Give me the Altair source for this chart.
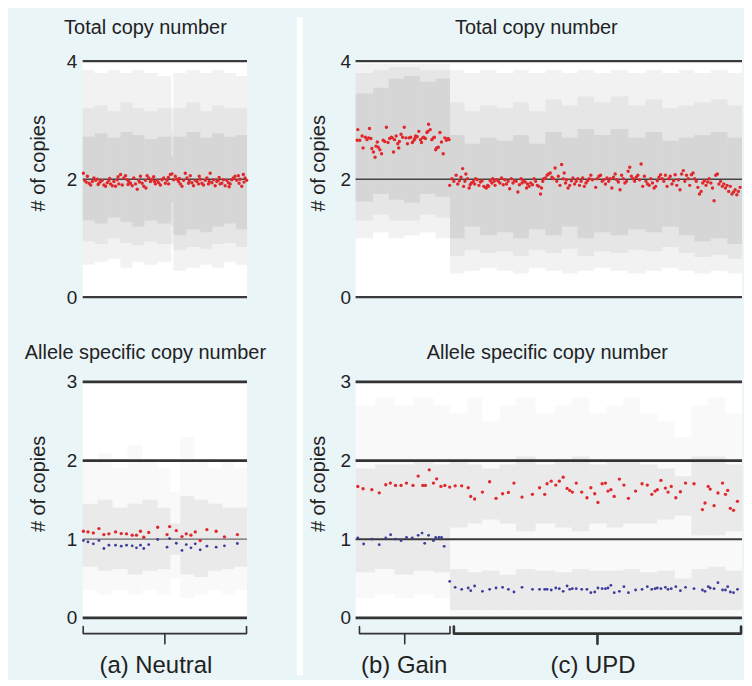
import altair as alt
import pandas as pd

FONT = "Liberation Sans"
PANEL_BG = "#eaf5f8"
TEXT = "#222222"
RED = "#e0282c"
BLUE = "#3c3c9c"

# ---------------- (a) Neutral : total copy number (smoothed, red) ----------------
A_TOT_X = [0.7, 2.0, 3.5, 4.7, 6.3, 8.0, 9.7, 11.3, 13.0, 14.7, 15.5, 16.3, 18.0, 19.7, 21.3, 23.0,
           24.7, 26.3, 27.0, 28.0, 29.7, 31.3, 33.0, 34.7, 35.5, 36.3, 38.0, 39.7, 41.3, 43.0, 44.7,
           45.5, 46.3, 48.0, 49.7, 51.3, 53.0, 54.7, 56.3, 57.0, 58.0, 59.7, 61.3, 63.0, 63.5, 64.7,
           66.3, 68.0, 69.7, 71.3, 72.0, 73.0, 74.7, 76.3, 78.0, 79.7, 81.3, 83.0, 84.7, 86.0, 86.3,
           88.0, 89.7, 91.3, 93.0, 94.7, 96.3, 97.0, 98.0, 99.7, 101.3, 103.0, 104.7, 106.3, 107.0,
           108.0, 109.7, 111.3, 113.0, 114.7, 116.3, 117.0, 118.0, 119.7, 121.3, 123.0, 124.7, 126.3,
           127.0, 128.0, 129.7, 131.3, 133.0, 134.7, 136.3, 137.0, 138.0, 139.7, 141.3, 143.0, 144.7,
           146.3, 147.0, 148.0, 149.7, 151.3, 153.0, 154.7, 156.3, 157.0, 158.0, 159.7, 161.3, 162.0,
           163.0, 164.7]
A_TOT_Y = [2.10, 1.98, 1.95, 2.05, 1.93, 1.90, 1.96, 2.02, 1.98, 2.00, 1.91, 1.93, 1.96, 1.98, 1.90, 1.88,
           1.94, 1.98, 2.01, 1.92, 1.89, 1.96, 1.88, 1.99, 2.04, 1.92, 2.08, 1.90, 2.02, 2.06, 1.99,
           1.91, 1.96, 1.93, 1.89, 2.02, 1.92, 1.83, 1.98, 1.95, 2.05, 1.93, 1.88, 1.98, 1.85, 2.06,
           2.02, 1.96, 2.00, 2.04, 1.96, 1.92, 1.98, 1.94, 1.90, 1.99, 2.02, 1.93, 1.98, 2.03, 1.92,
           2.08, 2.09, 1.99, 2.05, 2.00, 1.96, 2.01, 1.92, 1.88, 1.98, 2.10, 2.02, 1.93, 1.97,
           2.06, 1.94, 1.89, 1.98, 1.96, 1.92, 2.05, 2.00, 1.93, 1.90, 1.98, 2.02, 1.92,
           1.96, 2.10, 1.94, 1.99, 1.89, 1.96, 1.98, 2.03, 1.92, 1.93, 1.99, 1.89, 1.98,
           1.94, 1.87, 1.92, 1.99, 2.02, 2.05, 1.98, 2.06, 1.93, 2.00, 1.88, 2.08, 1.95,
           2.02, 1.98]

# ---------------- (a) Neutral : allele specific copy number ----------------
A_ASC_X = [0.7, 5.3, 10.7, 16.3, 21.3, 26.3, 33.0, 38.7, 44.0, 49.7, 54.0, 58.0, 61.3, 66.3,
           75.3, 84.7, 87.3, 94.0, 99.7, 104.0, 108.7, 113.0, 118.0, 124.7, 134.0, 142.3, 155.3]
A_ASC_MAJOR = [1.101, 1.093, 1.080, 1.135, 1.059, 1.068, 1.093, 1.072, 1.068, 1.051, 1.051, 1.101,
               1.025, 1.085, 1.152, 1.059, 1.160, 1.110, 1.034, 1.068, 1.051, 1.093, 0.983, 1.122,
               1.101, 1.030, 1.059]
A_ASC_MINOR = [0.983, 0.966, 0.941, 0.983, 0.882, 0.924, 0.924, 0.911, 0.924, 0.916, 0.890, 0.924,
               0.882, 0.932, 0.996, 0.899, 1.008, 0.949, 0.857, 0.932, 0.890, 0.941, 0.865, 0.911,
               0.899, 0.916, 0.945]

# ---------------- (b) Gain + (c) UPD : total copy number ----------------
B_TOT_X = [1.7, 2.3, 4.3, 6.7, 7.7, 10.0, 11.7, 13.3, 14.3, 15.7, 16.7, 18.3, 20.0, 21.0, 22.3, 23.3,
           25.0, 26.7, 28.3, 30.0, 31.7, 33.3, 35.0, 36.7, 37.7, 39.0, 40.0, 41.7, 43.3, 44.3, 45.0,
           46.7, 48.3, 50.0, 51.7, 53.3, 55.0, 56.7, 58.3, 60.0, 61.0, 61.7, 63.3, 65.0, 66.7, 67.7,
           69.0, 70.0, 71.7, 73.3, 74.3, 75.0, 76.7, 78.3, 80.0, 81.0, 82.3, 83.3, 85.0, 86.7, 88.3,
           90.0, 91.7, 93.3, 95.0, 96.0]
B_TOT_Y = [2.66, 2.84, 2.66, 2.73, 2.53, 2.71, 2.67, 2.70, 2.86, 2.69, 2.52, 2.46, 2.37, 2.56, 2.63, 2.54,
           2.50, 2.43, 2.66, 2.64, 2.88, 2.62, 2.69, 2.71, 2.70, 2.46, 2.67, 2.73, 2.60, 2.53, 2.64,
           2.76, 2.71, 2.88, 2.70, 2.60, 2.70, 2.71, 2.62, 2.66, 2.69, 2.73, 2.72, 2.81, 2.67, 2.62,
           2.70, 2.71, 2.69, 2.79, 2.81, 2.93, 2.84, 2.67, 2.70, 2.71, 2.50, 2.53, 2.54, 2.79, 2.63,
           2.43, 2.70, 2.66, 2.69, 2.67]
C_TOT_X = [96.7, 99.0, 101.0, 103.3, 105.0, 106.7, 108.3, 110.0, 111.0, 112.3, 113.3, 115.0, 116.7,
           117.7, 119.0, 121.0, 122.3, 123.3, 125.0, 126.7, 128.3, 130.0, 131.7, 133.3, 134.3, 135.7,
           136.7, 138.3, 140.0, 141.0, 142.3, 143.3, 145.0, 146.7, 148.3, 150.0, 151.7, 153.3, 155.0,
           156.7, 158.3, 160.0, 161.7, 163.3, 165.0, 166.7, 168.3, 170.0, 171.0, 172.3, 174.3, 175.7,
           176.7, 178.3, 180.0, 181.7, 183.3, 185.0, 186.7, 188.3, 190.0, 191.0, 192.3, 193.3, 195.0,
           196.7, 198.3, 200.0, 201.7, 203.3, 205.0, 206.7, 208.3, 210.0, 211.7, 213.3, 214.3, 215.7,
           216.7, 218.3, 220.0, 221.7, 223.3, 225.0, 226.7, 228.3, 230.0, 231.7, 233.3, 235.0, 236.7,
           238.3, 240.0, 241.7, 243.3,
           246.7, 248.3, 250.0, 251.7, 253.3, 255.0, 256.7, 258.3, 260.0, 261.7, 263.3, 265.0, 266.7,
           268.3, 270.0, 271.7, 273.3, 275.0, 276.7, 278.3, 280.0, 281.7, 283.3, 285.0, 286.7, 288.3,
           290.0, 291.7, 293.3, 295.0, 296.7, 298.3, 300.0, 301.7, 303.3, 305.0, 306.7, 308.3, 310.0,
           311.7, 313.3, 315.0, 316.7, 318.3, 320.0, 321.7, 323.3, 325.0, 326.7, 328.3, 330.0, 331.7,
           333.3, 335.0, 336.7, 338.3, 340.0, 341.7, 343.3, 345.0, 346.7, 348.3, 350.0, 351.7, 353.3,
           355.0, 356.7, 358.3, 360.0, 361.7, 363.3, 365.0, 366.7, 368.3, 370.0, 371.7, 373.3, 375.0,
           376.7, 378.3, 380.0, 381.7, 383.3, 385.0, 386.7, 388.3, 390.0, 391.7, 393.3, 395.0]
C_TOT_Y = [1.895, 2.008, 1.963, 2.065, 1.918, 1.974, 2.031, 2.179, 1.878, 1.963, 2.088, 2.008, 1.850,
           1.906, 1.935, 1.963, 1.918, 2.008, 1.991, 1.895, 1.952, 1.974, 1.878, 1.861, 1.850, 1.895,
           1.878, 1.974, 1.935, 2.008, 1.963, 1.895, 1.991, 1.963, 1.935, 2.020, 1.906, 1.991, 1.918,
           1.963, 1.838, 2.008, 1.935, 1.974, 1.963, 1.782, 1.906, 2.008, 1.935, 1.974, 1.952, 1.850,
           1.918, 1.878, 1.935, 1.906, 2.008, 1.963, 1.895, 1.878, 1.748, 1.850, 1.963, 2.008, 2.020,
           2.065, 2.088, 2.105, 2.031, 2.008, 2.190, 1.963, 2.048, 1.895, 2.247, 2.008, 2.105, 1.935,
           1.991, 1.850, 1.895, 1.974, 2.020, 1.918, 1.963, 2.008, 1.895, 1.963, 2.020, 1.878, 1.935,
           1.974, 2.008, 2.065, 1.991,
           1.861, 2.008, 2.048, 2.065, 1.963, 1.991, 1.918, 2.020, 1.963, 2.008, 1.850, 2.031, 2.088,
           1.991, 1.952, 1.821, 2.065, 2.008, 1.935, 1.963, 2.133, 2.201, 2.048, 2.008, 1.963, 2.031,
           2.065, 1.991, 2.258, 1.878, 2.048, 1.963, 1.918, 1.895, 2.008, 1.935, 1.850, 1.878, 1.974,
           2.031, 2.076, 2.008, 1.963, 2.065, 1.878, 2.008, 2.048, 1.918, 1.974, 2.076, 1.895, 1.991,
           1.821, 2.088, 2.145, 1.963, 2.065, 2.008, 1.895, 2.076, 2.105, 2.008, 1.963, 1.861, 1.748,
           1.793, 1.935, 1.974, 1.895, 1.952, 2.008, 1.935, 1.850, 1.634, 2.065, 2.088, 1.918, 1.963,
           1.878, 1.918, 1.850, 1.895, 1.793, 1.878, 1.748, 1.782, 1.821, 1.736, 1.793, 1.861]

# ---------------- (b) Gain : allele specific ----------------
B_MAJOR_X = [2.3, 7.7, 16.7, 24.3, 31.0, 35.7, 41.0, 46.7, 52.3, 59.0, 64.3, 69.0, 71.7, 75.7,
             80.0, 83.3, 87.7, 91.7]
B_MAJOR = [1.671, 1.641, 1.629, 1.590, 1.692, 1.713, 1.684, 1.684, 1.713, 1.684, 1.802, 1.684,
           1.684, 1.882, 1.713, 1.768, 1.671, 1.684]
B_MINOR_X = [2.3, 8.3, 16.7, 24.3, 31.0, 36.0, 41.0, 46.7, 52.3, 58.3, 64.3, 68.3, 71.0, 75.0,
             80.0, 82.3, 85.7, 88.3, 91.0]
B_MINOR = [1.015, 0.939, 1.002, 0.930, 1.015, 1.057, 1.002, 0.981, 1.023, 1.015, 1.049, 1.078,
           0.947, 1.049, 0.981, 1.023, 1.023, 1.023, 0.909]

# ---------------- (c) UPD : allele specific ----------------
C_ASC_X = [96.7, 102.3, 109.0, 115.7, 118.3, 122.3, 130.3, 137.7, 144.3, 151.0, 157.0, 162.7, 171.0,
           181.7, 189.0, 194.3, 196.7, 201.0, 205.7, 209.3, 213.3, 217.3, 220.0, 222.7, 226.7, 232.3,
           237.7, 241.7, 245.7, 249.0, 253.3, 256.7, 259.3, 262.3, 265.7, 271.0, 275.7, 280.3, 287.7,
           294.3, 299.7, 304.3, 307.7, 310.0, 313.7, 318.3, 321.0, 324.3, 329.0, 333.7, 339.0, 347.7,
           356.3, 359.0, 362.3, 364.3, 368.3, 372.3, 377.0, 380.0, 382.3, 385.0, 388.3, 392.3]
C_MAJOR = [1.662, 1.679, 1.679, 1.654, 1.544, 1.511, 1.599, 1.730, 1.519, 1.578, 1.595, 1.713, 1.536,
           1.570, 1.654, 1.570, 1.705, 1.738, 1.688, 1.738, 1.789, 1.646, 1.620, 1.599, 1.713, 1.599,
           1.527, 1.654, 1.578, 1.468, 1.705, 1.713, 1.612, 1.629, 1.544, 1.764, 1.688, 1.519, 1.612,
           1.705, 1.688, 1.570, 1.612, 1.629, 1.747, 1.650, 1.599, 1.671, 1.527, 1.603, 1.713, 1.705,
           1.376, 1.460, 1.671, 1.637, 1.426, 1.587, 1.713, 1.570, 1.620, 1.393, 1.367, 1.481]
C_MINOR = [0.464, 0.388, 0.363, 0.380, 0.346, 0.405, 0.338, 0.363, 0.380, 0.388, 0.363, 0.329, 0.388,
           0.363, 0.363, 0.363, 0.363, 0.354, 0.380, 0.371, 0.338, 0.405, 0.363, 0.371, 0.371, 0.363,
           0.363, 0.321, 0.329, 0.380, 0.371, 0.371, 0.380, 0.414, 0.321, 0.338, 0.397, 0.321, 0.354,
           0.363, 0.397, 0.363, 0.371, 0.380, 0.371, 0.388, 0.363, 0.371, 0.397, 0.346, 0.388, 0.371,
           0.354, 0.338, 0.397, 0.380, 0.371, 0.447, 0.354, 0.354, 0.397, 0.329, 0.321, 0.363]

# ---------------- raw probe clouds (spread read per stretch) ----------------
A_TOT_EDGES = [0, 12, 25, 38, 50, 62, 75, 89, 91, 104, 118, 130, 142, 154, 165]
A_TOT_OUT_LO = [0.55, 0.60, 0.65, 0.50, 0.60, 0.55, 0.60, 0.90, 0.45, 0.50, 0.55, 0.50, 0.60, 0.55]
A_TOT_OUT_HI = [3.85, 3.80, 3.85, 3.80, 3.85, 3.80, 3.75, 3.20, 3.80, 3.85, 3.80, 3.85, 3.80, 3.75]
A_TOT_MID_LO = [0.95, 0.90, 1.00, 0.92, 0.88, 0.95, 0.90, 1.20, 0.80, 0.85, 0.82, 0.90, 0.92, 0.85]
A_TOT_MID_HI = [3.20, 3.25, 3.15, 3.30, 3.20, 3.15, 3.20, 2.80, 3.20, 3.30, 3.15, 3.25, 3.20, 3.20]
A_TOT_IN_LO = [1.30, 1.25, 1.35, 1.28, 1.20, 1.30, 1.25, 1.60, 1.05, 1.15, 1.10, 1.20, 1.25, 1.15]
A_TOT_IN_HI = [2.72, 2.78, 2.70, 2.80, 2.75, 2.68, 2.72, 2.40, 2.72, 2.80, 2.70, 2.78, 2.72, 2.75]

BC_TOT_EDGES = [0, 18, 34, 50, 66, 82, 97, 112, 128, 145, 162, 178, 195, 212, 228, 245, 262, 280,
                298, 315, 332, 348, 365, 382, 397]
BC_TOT_OUT_LO = [1.00, 1.10, 1.00, 1.05, 1.10, 1.00, 0.40, 0.45, 0.50, 0.45, 0.40, 0.50, 0.45, 0.40,
                 0.45, 0.50, 0.45, 0.40, 0.45, 0.50, 0.45, 0.40, 0.45, 0.40]
BC_TOT_OUT_HI = [3.95, 3.95, 3.95, 3.95, 3.95, 3.95, 3.85, 3.80, 3.85, 3.80, 3.85, 3.80, 3.85, 3.80,
                 3.85, 3.80, 3.85, 3.80, 3.85, 3.80, 3.85, 3.80, 3.85, 3.80]
BC_TOT_MID_LO = [1.30, 1.40, 1.30, 1.30, 1.40, 1.35, 0.70, 0.80, 0.75, 0.78, 0.70, 0.80, 0.75, 0.82,
                 0.70, 0.78, 0.75, 0.80, 0.78, 0.85, 0.75, 0.68, 0.72, 0.65]
BC_TOT_MID_HI = [3.80, 3.85, 3.90, 3.90, 3.85, 3.85, 3.30, 3.15, 3.25, 3.20, 3.30, 3.15, 3.35, 3.25,
                 3.40, 3.30, 3.40, 3.25, 3.35, 3.20, 3.25, 3.30, 3.35, 3.25]
BC_TOT_IN_LO = [1.62, 1.75, 1.65, 1.60, 1.75, 1.70, 1.00, 1.20, 1.05, 1.10, 1.00, 1.15, 1.05, 1.20,
                1.00, 1.10, 1.05, 1.15, 1.10, 1.20, 1.05, 0.95, 1.00, 0.90]
BC_TOT_IN_HI = [3.45, 3.55, 3.70, 3.75, 3.65, 3.70, 2.75, 2.60, 2.70, 2.65, 2.75, 2.60, 2.80, 2.70,
                2.85, 2.75, 2.85, 2.70, 2.80, 2.65, 2.70, 2.75, 2.80, 2.70]

A_ASC_EDGES = [0, 15, 30, 45, 60, 75, 88, 98, 112, 126, 140, 152, 165]
A_ASC_OUT_LO = [0.35, 0.30, 0.35, 0.30, 0.35, 0.30, 0.50, 0.25, 0.30, 0.35, 0.30, 0.35]
A_ASC_OUT_HI = [2.00, 2.10, 1.90, 2.20, 2.00, 1.90, 1.60, 2.30, 2.00, 1.90, 2.00, 1.90]
A_ASC_IN_LO = [0.65, 0.60, 0.62, 0.55, 0.60, 0.62, 0.80, 0.55, 0.52, 0.60, 0.62, 0.65]
A_ASC_IN_HI = [1.45, 1.50, 1.40, 1.45, 1.50, 1.40, 1.20, 1.55, 1.50, 1.45, 1.40, 1.40]

B_ASC_EDGES = [0, 20, 40, 60, 80, 97]
B_ASC_OUT_LO = [0.25, 0.30, 0.25, 0.30, 0.25]
B_ASC_OUT_HI = [2.70, 2.80, 2.70, 2.80, 2.70]
B_ASC_IN_LO = [0.58, 0.62, 0.55, 0.60, 0.58]
B_ASC_IN_HI = [1.90, 1.95, 1.95, 2.00, 1.95]

C_ASC_EDGES = [97, 115, 130, 148, 165, 185, 205, 222, 240, 258, 275, 292, 310, 328, 345, 362, 380, 397]
C_ASC_OUT_LO = [0.02] * 17
C_ASC_OUT_HI = [2.60, 2.80, 2.50, 2.70, 2.80, 2.60, 2.70, 2.80, 2.60, 2.70, 2.80, 2.60, 2.50, 2.30,
                2.70, 2.80, 2.60]
C_ASC_LOWIN_LO = [0.10] * 17
C_ASC_LOWIN_HI = [0.62, 0.58, 0.60, 0.55, 0.62, 0.60, 0.58, 0.62, 0.60, 0.60, 0.62, 0.58, 0.60, 0.50,
                  0.62, 0.65, 0.60]
C_ASC_HIGHIN_LO = [1.15, 1.20, 1.25, 1.20, 1.10, 1.20, 1.15, 1.10, 1.20, 1.15, 1.20, 1.20, 1.25, 1.30,
                   1.05, 1.05, 1.10]
C_ASC_HIGHIN_HI = [2.00, 1.95, 1.90, 1.95, 2.05, 1.95, 2.00, 2.05, 1.95, 2.00, 2.00, 1.95, 1.90, 1.80,
                   2.05, 2.05, 1.95]

# reference lines: (level, width, colour)
TOT_LINES = [(0, 2.2, "#3a3a3a"), (2, 1.6, "#444444"), (4, 2.2, "#3a3a3a")]
A_ASC_LINES = [(0, 2.8, "#333333"), (1, 1.2, "#6a6a6a"), (2, 2.8, "#333333"), (3, 2.8, "#333333")]
BC_ASC_LINES = [(0, 2.8, "#333333"), (1, 2.0, "#3a3a3a"), (2, 2.8, "#333333"), (3, 2.8, "#333333")]

# segments with their labels: (start, end, label, brace width, label shift)
A_SEGMENTS = [(0.5, 164.5, "(a) Neutral", 1.6, -9)]
BC_SEGMENTS = [(4, 97, "(b) Gain", 1.6, -0.5), (101, 396, "(c) UPD", 2.6, -4.5)]

# style constants (y in data units below the axis)
BRACE_TOP, BRACE_MID, BRACE_TIP, LABEL_Y = -0.11, -0.20, -0.33, -0.70
PLOT_H = 237
X_MAX_A, X_MAX_BC = 165, 397
W_A, W_BC = 165, 388
GAP_W, GAP_H, GAP_RISE = 6, 616, 44


def cloud_df(edges, bands):
    rows = []
    for lo_list, hi_list, op in bands:
        for i in range(len(edges) - 1):
            rows.append({"x0": edges[i], "x1": edges[i + 1], "lo": lo_list[i], "hi": hi_list[i], "op": op})
    return pd.DataFrame(rows)


def pts_df(xs, ys):
    return pd.DataFrame({"pos": xs, "cn": ys})


def brace_df(segments):
    rows = []
    for k, (a, b, _, w, _) in enumerate(segments):
        c = (a + b) / 2
        shape = [(a, BRACE_TOP), (a, BRACE_MID), (c, BRACE_MID), (c, BRACE_TIP), (c, BRACE_MID),
                 (b, BRACE_MID), (b, BRACE_TOP)]
        for j, (px, py) in enumerate(shape):
            rows.append({"pos": px, "cn": py, "brace": k, "ord": j, "w": w})
    return pd.DataFrame(rows)


def panel(xmax, width, ymax, ticks, clouds, cloud_color, lines, points, title, title_dx, title_offset,
          title_pad, label_pad, segments=None):
    xs = alt.Scale(domain=[0, xmax], nice=False, zero=False)
    ys = alt.Scale(domain=[0, ymax], nice=False, zero=False)
    yaxis = alt.Axis(values=ticks, format="d", title="# of copies", domain=False, ticks=False, grid=False,
                     labelPadding=label_pad, titlePadding=title_pad, titleY=102,
                     labelFontSize=19, titleFontSize=20, labelFont=FONT, titleFont=FONT,
                     titleFontWeight="normal", labelColor=TEXT, titleColor=TEXT)

    def Y(field):
        return alt.Y(field, scale=ys, axis=yaxis, title="# of copies")

    def X(field):
        return alt.X(field, scale=xs, axis=None)

    layers = [
        alt.Chart(clouds).mark_rect(color=cloud_color, strokeWidth=0).encode(
            x=X("x0:Q"), x2="x1:Q", y=Y("lo:Q"), y2="hi:Q",
            opacity=alt.Opacity("op:Q", scale=None, legend=None)),
        alt.Chart(pd.DataFrame(lines, columns=["v", "w", "c"])).mark_rule().encode(
            y=Y("v:Q"),
            strokeWidth=alt.StrokeWidth("w:Q", scale=None, legend=None),
            color=alt.Color("c:N", scale=None, legend=None)),
    ]
    for df, color, size in points:
        layers.append(alt.Chart(df).mark_circle(size=size, opacity=1, color=color).encode(
            x=X("pos:Q"), y=Y("cn:Q")))
    if segments:
        layers.append(alt.Chart(brace_df(segments)).mark_line(
            color="#333333", strokeCap="round", strokeJoin="round").encode(
            x=X("pos:Q"), y=Y("cn:Q"), detail="brace:N", order="ord:Q",
            strokeWidth=alt.StrokeWidth("w:Q", scale=None, legend=None)))
        for a, b, label, _, shift in segments:
            lab = pd.DataFrame({"pos": [(a + b) / 2], "cn": [LABEL_Y], "label": [label]})
            layers.append(alt.Chart(lab).mark_text(fontSize=24, font=FONT, color=TEXT,
                                                   baseline="alphabetic", align="center", dx=shift).encode(
                x=X("pos:Q"), y=Y("cn:Q"), text="label:N"))
    return alt.layer(*layers).properties(
        width=width, height=PLOT_H,
        title=alt.TitleParams(title, fontSize=20, font=FONT, fontWeight="normal", color=TEXT,
                              anchor="middle", frame="group", dx=title_dx, offset=title_offset,
                              baseline="alphabetic"))


TOT_COLOR = "#c4c4c4"
ASC_COLOR = "#c6c6c9"

a_top = panel(X_MAX_A, W_A, 4, [0, 2, 4],
              cloud_df(A_TOT_EDGES, [(A_TOT_OUT_LO, A_TOT_OUT_HI, 0.22), (A_TOT_MID_LO, A_TOT_MID_HI, 0.25),
                                     (A_TOT_IN_LO, A_TOT_IN_HI, 0.45)]),
              TOT_COLOR, TOT_LINES, [(pts_df(A_TOT_X, A_TOT_Y), RED, 12)],
              "Total copy number", -19.5, -2, 18, 6)
a_bot = panel(X_MAX_A, W_A, 3, [0, 1, 2, 3],
              cloud_df(A_ASC_EDGES, [(A_ASC_OUT_LO, A_ASC_OUT_HI, 0.10), (A_ASC_IN_LO, A_ASC_IN_HI, 0.28)]),
              ASC_COLOR, A_ASC_LINES,
              [(pts_df(A_ASC_X, A_ASC_MAJOR), RED, 11), (pts_df(A_ASC_X, A_ASC_MINOR), BLUE, 8)],
              "Allele specific copy number", -19.5, -6, 18, 6, A_SEGMENTS)

bc_top = panel(X_MAX_BC, W_BC, 4, [0, 2, 4],
               cloud_df(BC_TOT_EDGES, [(BC_TOT_OUT_LO, BC_TOT_OUT_HI, 0.22),
                                       (BC_TOT_MID_LO, BC_TOT_MID_HI, 0.25),
                                       (BC_TOT_IN_LO, BC_TOT_IN_HI, 0.45)]),
               TOT_COLOR, TOT_LINES,
               [(pts_df(B_TOT_X, B_TOT_Y), RED, 12), (pts_df(C_TOT_X, C_TOT_Y), RED, 12)],
               "Total copy number", -12.5, -2, 12, 5)
bc_clouds = pd.concat([
    cloud_df(B_ASC_EDGES, [(B_ASC_OUT_LO, B_ASC_OUT_HI, 0.10), (B_ASC_IN_LO, B_ASC_IN_HI, 0.28)]),
    cloud_df(C_ASC_EDGES, [(C_ASC_OUT_LO, C_ASC_OUT_HI, 0.10), (C_ASC_LOWIN_LO, C_ASC_LOWIN_HI, 0.28),
                           (C_ASC_HIGHIN_LO, C_ASC_HIGHIN_HI, 0.28)]),
], ignore_index=True)
bc_bot = panel(X_MAX_BC, W_BC, 3, [0, 1, 2, 3], bc_clouds, ASC_COLOR, BC_ASC_LINES,
               [(pts_df(B_MAJOR_X, B_MAJOR), RED, 11), (pts_df(B_MINOR_X, B_MINOR), BLUE, 8),
                (pts_df(C_ASC_X, C_MAJOR), RED, 11), (pts_df(C_ASC_X, C_MINOR), BLUE, 8)],
               "Allele specific copy number", -1.5, -6, 12, 5, BC_SEGMENTS)

left_col = alt.vconcat(a_top, a_bot, spacing=36)
right_col = alt.vconcat(bc_top, bc_bot, spacing=36)

# white separator between the two panels (decoration, not data)
gap = alt.Chart(pd.DataFrame({"k": [0]})).mark_rect(color="white", strokeWidth=0).encode(
    x=alt.value(0), x2=alt.value(GAP_W), y=alt.value(-GAP_RISE), y2=alt.value(GAP_H)).properties(
    width=GAP_W, height=GAP_H, view=alt.ViewBackground(fill="white", strokeWidth=0))

chart = alt.hconcat(alt.hconcat(left_col, gap, spacing=30), right_col, spacing=5).properties(
    background=PANEL_BG, padding={"left": 16, "top": 8, "right": 0, "bottom": 0}
).configure_view(fill="white", strokeWidth=0)

chart.save("out.html", embed_options={"renderer": "svg", "actions": False})
